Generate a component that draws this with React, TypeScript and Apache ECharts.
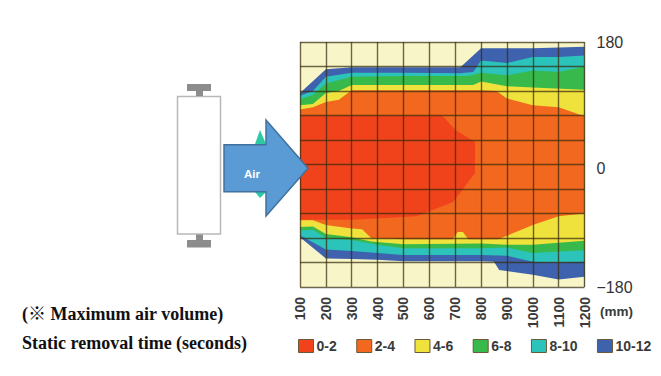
import React, { useEffect, useRef } from "react";
import * as echarts from "echarts";

type Pt = [number, number];

const legendNames = ["0-2", "2-4", "4-6", "6-8", "8-10", "10-12"];
const red = "#f0431c";
const orange = "#f3681f";
const yellow = "#efe23c";
const green = "#37b94c";
const teal = "#2cc3bb";
const blue = "#3f62ae";
const pale = "#f8f6c9";

const upper10: Pt[] = [[100, 105], [200, 140], [300, 143], [400, 143], [500, 143], [600, 143], [720, 143], [800, 171], [900, 171], [1000, 171], [1100, 172], [1200, 173]];
const upper8: Pt[] = [[100, 101], [150, 108], [200, 129], [300, 135], [500, 135], [720, 134], [770, 136], [800, 153], [900, 149], [1000, 158], [1100, 158], [1200, 160]];
const upper6: Pt[] = [[100, 96], [150, 102], [200, 119], [300, 129], [500, 130], [750, 130], [800, 135], [900, 131], [1000, 138], [1100, 136], [1200, 144]];
const upper4: Pt[] = [[100, 87], [150, 89], [200, 105], [250, 108], [300, 117], [500, 117], [770, 117], [800, 122], [900, 115], [1000, 113], [1200, 110]];
const upper2: Pt[] = [[100, 81], [150, 84], [200, 92], [250, 95], [300, 109], [500, 109], [800, 109], [860, 108], [900, 97], [1000, 87], [1100, 84], [1200, 71]];
const redTop: Pt[] = [[100, 72], [400, 72], [650, 72], [700, 51], [777, 33]];
const redBottom: Pt[] = [[100, -81], [300, -81], [500, -77], [550, -76], [692, -55], [777, -12]];
const lower2: Pt[] = [[100, -82], [150, -82], [200, -89], [300, -94], [340, -95], [375, -108], [500, -110], [690, -110], [710, -99], [730, -99], [750, -110], [866, -110], [1000, -89], [1100, -76], [1200, -72]];
const lower4: Pt[] = [[100, -92], [150, -91], [200, -102], [300, -107], [375, -113], [500, -117], [800, -116], [900, -118], [1000, -118], [1100, -115], [1200, -112]];
const lower6: Pt[] = [[100, -97], [150, -96], [200, -108], [300, -111], [400, -118], [500, -123], [800, -123], [900, -122], [1000, -130], [1100, -128], [1200, -126]];
const lower8: Pt[] = [[100, -104], [200, -125], [300, -127], [400, -130], [500, -133], [800, -133], [900, -134], [1000, -143], [1100, -144], [1200, -143]];
const lower10: Pt[] = [[100, -107], [200, -138], [300, -139], [400, -140], [500, -142], [800, -142], [850, -143], [870, -155], [1000, -162], [1100, -169], [1200, -165]];

const layers: [string, string, Pt[]][] = [
  ["10-12", blue, upper10],
  ["8-10", teal, upper8],
  ["6-8", green, upper6],
  ["4-6", yellow, upper4],
  ["2-4", orange, upper2],
  ["0-2", red, redTop],
  ["2-4", orange, redBottom],
  ["4-6", yellow, lower2],
  ["6-8", green, lower4],
  ["8-10", teal, lower6],
  ["10-12", blue, lower8],
  ["none", pale, lower10],
];
const legendColors = [red, orange, yellow, green, teal, blue];

const yLabels: Record<string, string> = { "180": "180", "0": "{zero|0}", "-180": "\u2212180" };
const gridLine = "rgba(55,45,15,0.72)";
const sans = "'Liberation Sans', sans-serif";
const serif = "'Liberation Serif', 'Noto Sans CJK JP', serif";

export default function App() {
  const ref = useRef<HTMLDivElement>(null);
  useEffect(() => {
    const chart = echarts.init(ref.current!, undefined, { renderer: "svg" });
    chart.setOption({
      animation: false,
      backgroundColor: "#ffffff",
      grid: { left: 300, top: 42, width: 284.5, height: 245, backgroundColor: pale, show: true, borderWidth: 0 },
      xAxis: {
        type: "value", min: 100, max: 1200, interval: 100, z: 10,
        axisLine: { show: false }, axisTick: { show: false },
        splitLine: { show: true, lineStyle: { color: gridLine, width: 1.4 } },
        axisLabel: {
          rotate: 90, margin: 10, color: "#3a3a3a", fontFamily: sans, fontSize: 14, fontWeight: 600,
          formatter: (v: number) => String(v),
        },
      },
      yAxis: {
        type: "value", position: "right", min: -180, max: 180, interval: 36, z: 10,
        axisLine: { show: false }, axisTick: { show: false },
        splitLine: { show: true, lineStyle: { color: gridLine, width: 1.4 } },
        axisLabel: {
          margin: 12, color: "#333333", fontFamily: sans, fontSize: 16, align: "left",
          formatter: (v: number) => yLabels[String(v)] ?? "",
          rich: { zero: { padding: [7, 0, 0, 0], fontSize: 16, color: "#333333", fontFamily: sans } },
        },
      },
      legend: {
        left: 298, top: 339, itemWidth: 15, itemHeight: 13, itemGap: 19.5, itemStyle: {}, selectedMode: false, padding: 0,
        textStyle: { color: "#3a3a3a", fontFamily: sans, fontSize: 14, fontWeight: 600, padding: [0, 0, 0, -2] },
        data: legendNames.map((name, i) => ({
          name, icon: "rect",
          itemStyle: { color: legendColors[i], borderColor: "#6b5a3a", borderWidth: 1 },
        })),
      },
      series: layers.map(([name, color, data]) => ({
        name, type: "line", data, showSymbol: false, symbol: "none", silent: true,
        lineStyle: { width: 0, color }, itemStyle: { color },
        areaStyle: { color, opacity: 1, origin: "start" },
      })),
      graphic: [
        { type: "polygon", z: 20, shape: { points: [[255, 144], [260, 130], [266, 144]] }, style: { fill: "#2cc9a4" } },
        { type: "polygon", z: 20, shape: { points: [[255, 192], [266, 192], [260, 198]] }, style: { fill: "#2cc9a4" } },
        { type: "polygon", z: 21, shape: { points: [[224, 144.7], [266, 144.7], [266, 120], [308, 168.3], [266, 216], [266, 191.7], [224, 191.7]] }, style: { fill: "#5b9bd5", stroke: "#41719c", lineWidth: 1.5 } },
        { type: "text", z: 22, x: 244, y: 168, style: { text: "Air", fill: "#ffffff", font: "bold 11.5px 'Liberation Sans', sans-serif" } },
        { type: "rect", z: 20, shape: { x: 177.5, y: 96.5, width: 43, height: 137.5 }, style: { fill: "#ffffff", stroke: "#b8b8b8", lineWidth: 1.5 } },
        { type: "rect", z: 20, shape: { x: 187, y: 84, width: 24, height: 7 }, style: { fill: "#8c8c8c" } },
        { type: "rect", z: 20, shape: { x: 196, y: 91, width: 7, height: 5 }, style: { fill: "#8c8c8c" } },
        { type: "rect", z: 20, shape: { x: 196, y: 234.5, width: 7, height: 6 }, style: { fill: "#8c8c8c" } },
        { type: "rect", z: 20, shape: { x: 187, y: 240, width: 24, height: 7.5 }, style: { fill: "#8c8c8c" } },
        { type: "text", z: 20, x: 22, y: 305, style: { text: "(\u203B Maximum air volume)", fill: "#111111", font: `bold 18px ${serif}` } },
        { type: "text", z: 20, x: 22, y: 334, style: { text: "Static removal time (seconds)", fill: "#111111", font: `bold 18px ${serif}` } },
        { type: "text", z: 20, x: 600, y: 304, style: { text: "(mm)", fill: "#3a3a3a", font: `600 13.5px ${sans}` } },
      ],
    });
    return () => chart.dispose();
  }, []);
  return <div ref={ref} style={{ position: "fixed", left: 0, top: 0, width: 661, height: 376 }} />;
}
